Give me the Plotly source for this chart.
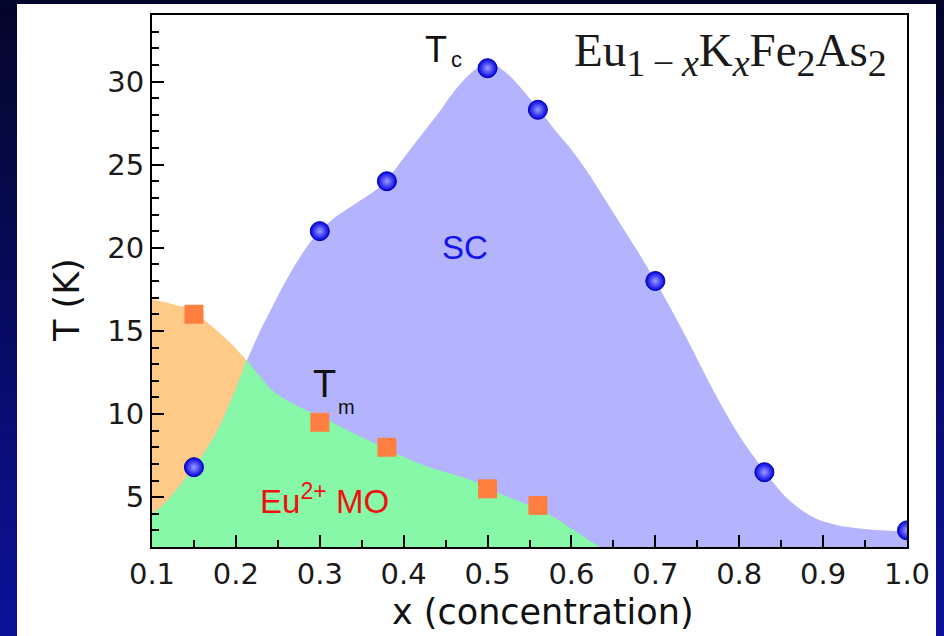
import plotly.graph_objects as go

# ---------------- data ----------------
# Tc measurements (blue spheres)
tc_x = [0.15, 0.30, 0.38, 0.50, 0.56, 0.70, 0.83, 1.00]
tc_T = [6.8, 21.0, 24.0, 30.8, 28.3, 18.0, 6.5, 3.0]

# Tm measurements (orange squares)
tm_x = [0.15, 0.30, 0.38, 0.50, 0.56]
tm_T = [16.0, 9.5, 8.0, 5.5, 4.5]

# Tc phase boundary (guide curve drawn in the figure)
tc_curve_x = [0.100, 0.115, 0.130, 0.150, 0.165, 0.180, 0.195, 0.207, 0.213, 0.219,
              0.228, 0.240, 0.253, 0.265, 0.276, 0.288, 0.300, 0.315, 0.332, 0.350,
              0.370, 0.385, 0.400, 0.420, 0.440, 0.460, 0.478, 0.490, 0.500, 0.512,
              0.525, 0.540, 0.560, 0.580, 0.600, 0.620, 0.640, 0.660, 0.680, 0.700,
              0.720, 0.740, 0.760, 0.780, 0.800, 0.815, 0.830, 0.845, 0.860, 0.875,
              0.890, 0.910, 0.930, 0.952, 0.975, 1.000]
tc_curve_T = [4.0, 4.6, 5.5, 6.8, 7.9, 9.2, 10.9, 12.4, 13.2, 13.9,
              14.9, 16.1, 17.4, 18.5, 19.4, 20.3, 21.0, 21.7, 22.3, 22.9,
              23.6, 24.4, 25.4, 26.7, 28.0, 29.4, 30.4, 30.9, 31.1, 30.9,
              30.4, 29.6, 28.4, 27.1, 25.9, 24.5, 22.9, 21.3, 19.7, 18.0,
              16.2, 14.3, 12.3, 10.4, 8.7, 7.6, 6.6, 5.6, 4.8, 4.2,
              3.75, 3.4, 3.2, 3.07, 3.0, 2.95]

# Tm phase boundary
tm_curve_x = [0.100, 0.125, 0.150, 0.166, 0.180, 0.193, 0.207, 0.213, 0.219, 0.228,
              0.244, 0.265, 0.285, 0.300, 0.330, 0.363, 0.396, 0.420, 0.443, 0.470,
              0.489, 0.515, 0.545, 0.572, 0.600, 0.634, 0.650]
tm_curve_T = [16.9, 16.6, 16.2, 15.5, 14.9, 14.3, 13.55, 13.2, 12.85, 12.3,
              11.4, 10.7, 10.2, 9.9, 9.1, 8.3, 7.5, 7.0, 6.6, 6.2,
              5.85, 5.2, 4.6, 4.0, 3.1, 2.0, 1.5]

junction_x = 0.213  # where the two boundaries cross

x_ticks = [0.1, 0.2, 0.3, 0.4, 0.5, 0.6, 0.7, 0.8, 0.9, 1.0]
x_minor = [0.15, 0.25, 0.35, 0.45, 0.55, 0.65, 0.75, 0.85, 0.95]
y_ticks = [5, 10, 15, 20, 25, 30]
y_minor = [3, 4, 6, 7, 8, 9, 11, 12, 13, 14, 16, 17, 18, 19, 21, 22, 23, 24,
           26, 27, 28, 29, 31, 32, 33]

# ---------------- styling ----------------
W, H = 944, 636
L, R, T, B = 152, 907, 15, 547

BLUE_FILL = '#b4b4fe'
GREEN_FILL = '#86f8a7'
ORANGE_FILL = '#fdca87'
SQUARE = '#ff7f40'
AXFONT = 'DejaVu Sans'
LBLFONT = 'Liberation Sans, Arial'


def px_x(px):
    return (px - L) / (R - L)


def px_y(py):
    return (B - py) / (B - T)


fig = go.Figure()

# orange: below Tm
fig.add_trace(go.Scatter(x=tm_curve_x, y=tm_curve_T, mode='lines', fill='tozeroy',
                         fillcolor=ORANGE_FILL,
                         line=dict(width=0, color=ORANGE_FILL, shape='spline'),
                         hoverinfo='skip', showlegend=False))
# blue: below Tc
fig.add_trace(go.Scatter(x=tc_curve_x, y=tc_curve_T, mode='lines', fill='tozeroy',
                         fillcolor=BLUE_FILL,
                         line=dict(width=0, color=BLUE_FILL, shape='spline'),
                         hoverinfo='skip', showlegend=False))
# green: below both boundaries
j = tc_curve_x.index(junction_x)
k = tm_curve_x.index(junction_x)
green_x = tc_curve_x[:j + 1] + tm_curve_x[k + 1:]
green_T = tc_curve_T[:j + 1] + tm_curve_T[k + 1:]
fig.add_trace(go.Scatter(x=green_x, y=green_T, mode='lines', fill='tozeroy',
                         fillcolor=GREEN_FILL,
                         line=dict(width=0, color=GREEN_FILL, shape='spline'),
                         hoverinfo='skip', showlegend=False))

# markers
fig.add_trace(go.Scatter(x=tm_x, y=tm_T, mode='markers',
                         marker=dict(symbol='square', size=19, color=SQUARE,
                                     line=dict(width=0)),
                         hoverinfo='skip', showlegend=False))
fig.add_trace(go.Scatter(x=tc_x, y=tc_T, mode='markers',
                         marker=dict(symbol='circle', size=19, color='#0000e6',
                                     gradient=dict(type='radial', color='#9c9cff'),
                                     line=dict(width=1, color='#0000a8')),
                         hoverinfo='skip', showlegend=False))

# ---------------- background frame (navy gradient + white panel) ----------------
shapes = []
nb = 48
top_c = (4, 5, 42)
bot_c = (12, 17, 152)
for i in range(nb):
    f = i / (nb - 1)
    c = tuple(round(top_c[m] + (bot_c[m] - top_c[m]) * f) for m in range(3))
    y0 = i * H / nb
    y1 = (i + 1) * H / nb + 1
    shapes.append(dict(type='rect', xref='paper', yref='paper',
                       x0=px_x(0), x1=px_x(W), y0=px_y(y1), y1=px_y(y0),
                       line=dict(width=0), fillcolor='rgb(%d,%d,%d)' % c, layer='below'))
shapes.append(dict(type='rect', xref='paper', yref='paper',
                   x0=px_x(17), x1=px_x(936), y0=px_y(640), y1=px_y(4),
                   line=dict(width=0), fillcolor='white', layer='below'))

# ---------------- annotations ----------------
ann = []
ann.append(dict(text='x (concentration)', xref='paper', yref='paper',
                x=px_x(543), y=px_y(612), xanchor='center', yanchor='middle',
                showarrow=False, font=dict(family=AXFONT, size=35, color='#111')))
ann.append(dict(text='T (K)', xref='paper', yref='paper', textangle=-90,
                x=px_x(67), y=px_y(300), xanchor='center', yanchor='middle',
                showarrow=False, font=dict(family=AXFONT, size=35, color='#111')))
# Tc label
ann.append(dict(text='T', x=0.438, y=31.9, xref='x', yref='y', showarrow=False,
                xanchor='center', yanchor='middle',
                font=dict(family=LBLFONT, size=36, color='#111')))
ann.append(dict(text='c', x=0.4625, y=31.3, xref='x', yref='y', showarrow=False,
                xanchor='center', yanchor='middle',
                font=dict(family=LBLFONT, size=22, color='#111')))
# Tm label
ann.append(dict(text='T', x=0.306, y=11.8, xref='x', yref='y', showarrow=False,
                xanchor='center', yanchor='middle',
                font=dict(family=LBLFONT, size=38, color='#111')))
ann.append(dict(text='m', x=0.3324, y=10.4, xref='x', yref='y', showarrow=False,
                xanchor='center', yanchor='middle',
                font=dict(family=LBLFONT, size=20, color='#111')))
# SC
ann.append(dict(text='SC', x=0.473, y=20.0, xref='x', yref='y', showarrow=False,
                xanchor='center', yanchor='middle',
                font=dict(family=LBLFONT, size=33, color='#1212f0')))
# Eu2+ MO
ann.append(dict(text='Eu<sup>2+</sup> MO', x=0.306, y=4.9, xref='x', yref='y',
                showarrow=False, xanchor='center', yanchor='middle',
                font=dict(family=LBLFONT, size=33, color='#f01010')))
# formula
sub = "<sub><span style='font-size:38px'>%s</span></sub>"
formula = ('Eu' + sub % '1\u2009\u2212\u2009<i>x</i>' + 'K' + sub % '<i>x</i>' +
           'Fe' + sub % '2' + 'As' + sub % '2')
ann.append(dict(text=formula, xref='paper', yref='paper', x=px_x(572), y=px_y(54),
                xanchor='left', yanchor='middle', showarrow=False,
                font=dict(family='Liberation Serif, Times New Roman', size=47,
                          color='#1a1a1a')))

axis_common = dict(ticks='inside', tickwidth=2, ticklen=12, tickcolor='black',
                   showline=True, linecolor='black', linewidth=2, mirror=True,
                   showgrid=False, zeroline=False,
                   tickfont=dict(family=AXFONT, size=29, color='#1a1a1a'))

fig.update_layout(
    width=W, height=H,
    margin=dict(l=L, r=W - R, t=T, b=H - B, pad=0),
    paper_bgcolor='rgb(8,11,95)', plot_bgcolor='white',
    showlegend=False, hovermode=False,
    shapes=shapes, annotations=ann,
    xaxis=dict(range=[0.1, 1.0], tickmode='array', tickvals=x_ticks,
               ticktext=['%.1f' % v for v in x_ticks],
               minor=dict(tickmode='array', tickvals=x_minor, ticks='inside',
                          ticklen=7, tickwidth=2, tickcolor='black'),
               **axis_common),
    yaxis=dict(range=[2, 34], tickmode='array', tickvals=y_ticks,
               ticktext=[str(v) for v in y_ticks],
               minor=dict(tickmode='array', tickvals=y_minor, ticks='inside',
                          ticklen=7, tickwidth=2, tickcolor='black'),
               **axis_common),
)

fig.write_html('out.html')
